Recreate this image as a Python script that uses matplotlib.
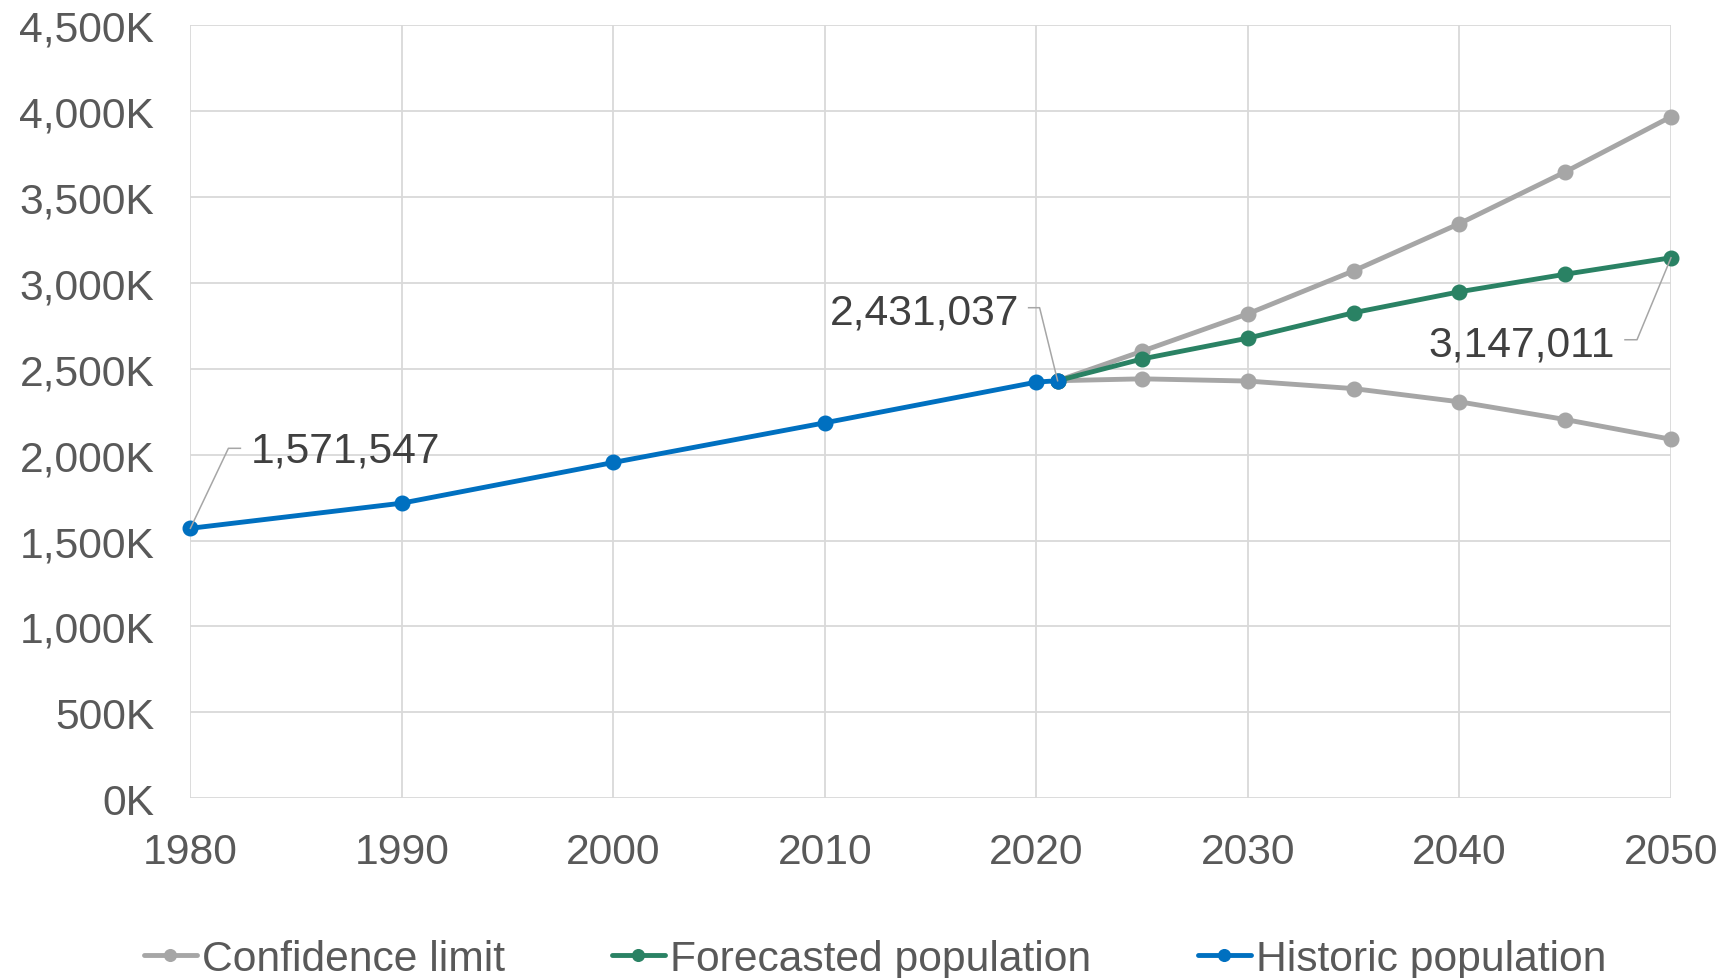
import matplotlib
matplotlib.use("Agg")
import matplotlib.pyplot as plt
from matplotlib.ticker import FuncFormatter, MultipleLocator
from matplotlib.transforms import IdentityTransform

# Population series
hist_years = [1980, 1990, 2000, 2010, 2020, 2021]
hist_pop = [1571547, 1718000, 1955000, 2186000, 2423000, 2431037]

fc_years = [2021, 2025, 2030, 2035, 2040, 2045, 2050]
fc_pop = [2431037, 2558000, 2679000, 2827000, 2949000, 3051000, 3147011]

ci_years = [2021, 2025, 2030, 2035, 2040, 2045, 2050]
ci_upper = [2431037, 2603000, 2821000, 3071000, 3346000, 3647000, 3968000]
ci_lower = [2431037, 2442000, 2429000, 2385000, 2308000, 2205000, 2090000]

x_ticks = [1980, 1990, 2000, 2010, 2020, 2030, 2040, 2050]

plt.rcParams["font.family"] = ["Liberation Sans", "DejaVu Sans"]

W, H, DPI = 1726, 979, 100
fig = plt.figure(figsize=(W / DPI, H / DPI), dpi=DPI)
ax = fig.add_axes([190.4 / W, 1 - 799.2 / H, (1671 - 190.4) / W, (799.2 - 26.4) / H])

GRAY = "#a6a6a6"
GREEN = "#2a8264"
BLUE = "#0070c0"
GRID = "#d9d9d9"
TICK = "#595959"
LABEL = "#404040"
FS = 30.7

lw, ms = 3.5, 10.5
common = dict(lw=lw, marker="o", ms=ms, clip_on=False, solid_capstyle="round")
ax.plot(ci_years, ci_upper, color=GRAY, label="Confidence limit", zorder=3, **common)
ax.plot(ci_years, ci_lower, color=GRAY, zorder=3, **common)
ax.plot(fc_years, fc_pop, color=GREEN, label="Forecasted population", zorder=4, **common)
ax.plot(hist_years, hist_pop, color=BLUE, label="Historic population", zorder=5, **common)

ax.set_xlim(1980, 2050)
ax.set_ylim(0, 4500000)
ax.set_xticks(x_ticks)
ax.yaxis.set_major_locator(MultipleLocator(500000))
ax.yaxis.set_major_formatter(FuncFormatter(lambda v, p: f"{v / 1000:,.0f}K"))

ax.grid(True, color=GRID, lw=1.3, zorder=0)
ax.set_axisbelow(True)
for s in ax.spines.values():
    s.set_visible(False)
ax.tick_params(axis="y", length=0, pad=26, labelsize=FS, labelcolor=TICK)
ax.tick_params(axis="x", length=0, pad=24, labelsize=FS, labelcolor=TICK)

leg = fig.legend(loc="center", bbox_to_anchor=(0.5 + 12 / W, 1 - 960 / H), ncol=3,
                 frameon=False, fontsize=FS, handlelength=1.25,
                 handletextpad=0.12, columnspacing=2.5, borderaxespad=0,
                 borderpad=0, markerscale=0.8)
for t in leg.get_texts():
    t.set_color(TICK)


def label_point(x, y, dx, dy, ha, leader):
    """Write a value label offset from a point, with a thin leader line (pixel offsets)."""
    px, py = ax.transData.transform((x, y))
    ax.text(px + dx, py + dy, f"{y:,}", transform=IdentityTransform(),
            ha=ha, va="baseline", fontsize=FS, color=LABEL, zorder=6)
    xs = [px + ox for ox, oy in leader]
    ys = [py + oy for ox, oy in leader]
    ax.add_line(plt.Line2D(xs, ys, transform=IdentityTransform(),
                           color=GRAY, lw=1.1, zorder=6, clip_on=False))


label_point(hist_years[0], hist_pop[0], 60, 67, "left",
            [(0, 0), (38, 80), (50, 80)])
label_point(hist_years[-1], hist_pop[-1], -38, 57, "right",
            [(0, 0), (-18, 73), (-29, 73)])
label_point(fc_years[-1], fc_pop[-1], -56, -98, "right",
            [(0, 0), (-34, -82), (-46, -82)])

fig.savefig("out.png", dpi=DPI)
